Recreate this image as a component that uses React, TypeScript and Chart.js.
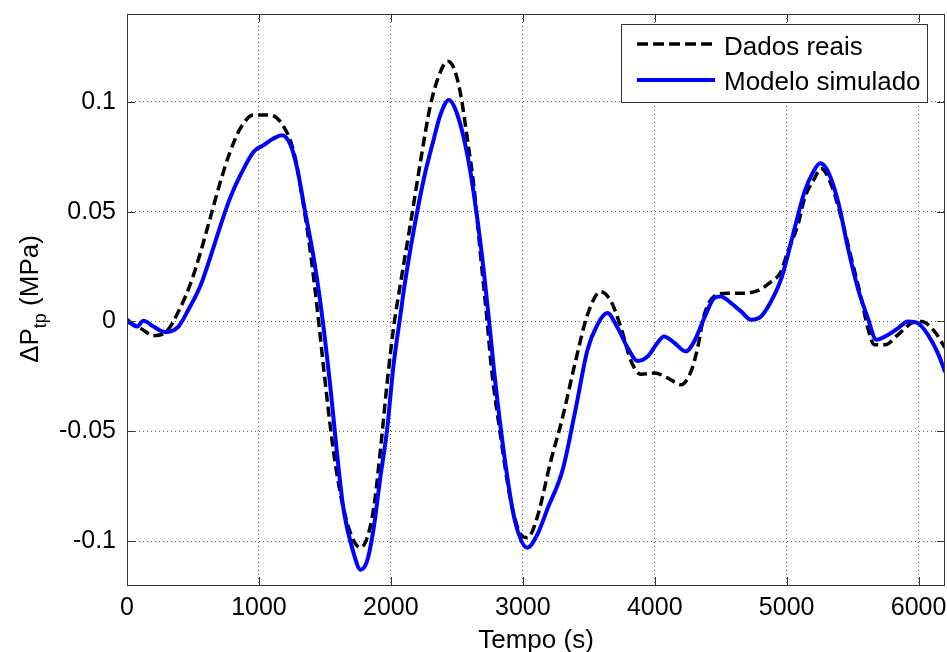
import React, { useEffect, useRef } from "react";
import { Chart, registerables } from "chart.js";

Chart.register(...registerables);

// ---- Data ----
const realT = [0, 100, 200, 300, 390, 480, 555, 630, 705, 780, 860, 960, 1085, 1185, 1265, 1340, 1400, 1460, 1490, 1565, 1640, 1720, 1770, 1820, 1870, 1920, 1970, 2020, 2075, 2150, 2225, 2300, 2375, 2430, 2480, 2530, 2580, 2630, 2680, 2730, 2760, 2830, 2910, 2985, 3035, 3110, 3210, 3300, 3400, 3490, 3590, 3670, 3745, 3820, 3895, 4000, 4100, 4200, 4275, 4325, 4375, 4450, 4555, 4680, 4780, 4880, 4950, 5010, 5085, 5135, 5210, 5260, 5340, 5415, 5490, 5565, 5615, 5665, 5745, 5845, 5945, 6020, 6120, 6200];
const realP = [0, -0.003, -0.0064, -0.0045, 0.0045, 0.017, 0.031, 0.047, 0.063, 0.077, 0.088, 0.094, 0.094, 0.089, 0.077, 0.052, 0.027, -0.004, -0.021, -0.059, -0.085, -0.1, -0.103, -0.0985, -0.085, -0.059, -0.029, -0.003, 0.018, 0.045, 0.073, 0.0985, 0.1136, 0.1185, 0.115, 0.103, 0.083, 0.061, 0.03, 0.0, -0.02, -0.0515, -0.082, -0.097, -0.0985, -0.089, -0.064, -0.044, -0.018, 0.003, 0.0136, 0.009, -0.003, -0.018, -0.024, -0.0235, -0.0258, -0.0288, -0.0227, -0.012, 0.003, 0.0114, 0.0129, 0.0129, 0.014, 0.018, 0.022, 0.032, 0.044, 0.056, 0.065, 0.0697, 0.062, 0.047, 0.0288, 0.0106, -0.003, -0.0106, -0.0106, -0.006, -0.0008, 0, -0.0045, -0.012];

const simT = [0, 75, 125, 200, 290, 390, 465, 555, 630, 705, 780, 860, 960, 1035, 1110, 1175, 1240, 1290, 1350, 1415, 1465, 1540, 1590, 1640, 1720, 1770, 1820, 1870, 1920, 1970, 2020, 2075, 2100, 2175, 2250, 2325, 2375, 2440, 2505, 2580, 2630, 2690, 2755, 2780, 2855, 2935, 3035, 3110, 3190, 3300, 3400, 3490, 3565, 3640, 3720, 3795, 3870, 3945, 4020, 4070, 4150, 4235, 4300, 4375, 4450, 4500, 4580, 4655, 4730, 4805, 4880, 4960, 5060, 5135, 5200, 5255, 5315, 5390, 5465, 5540, 5615, 5680, 5770, 5845, 5920, 5995, 6070, 6150, 6200];
const simP = [0.0008, -0.0023, 0.0003, -0.0023, -0.0048, -0.0023, 0.0053, 0.016, 0.029, 0.043, 0.056, 0.0667, 0.0773, 0.0803, 0.0833, 0.0848, 0.0803, 0.0697, 0.05, 0.029, 0.009, -0.029, -0.059, -0.085, -0.106, -0.113, -0.109, -0.094, -0.071, -0.05, -0.02, 0.004, 0.015, 0.042, 0.065, 0.083, 0.094, 0.1008, 0.094, 0.0758, 0.0576, 0.0303, -0.006, -0.0212, -0.059, -0.0894, -0.103, -0.097, -0.0848, -0.068, -0.04, -0.013, -0.0015, 0.0038, -0.003, -0.012, -0.018, -0.016, -0.0098, -0.0068, -0.0098, -0.0136, -0.009, 0.0015, 0.0106, 0.0114, 0.0083, 0.0045, 0.0008, 0.0023, 0.009, 0.0197, 0.0424, 0.059, 0.068, 0.072, 0.068, 0.0545, 0.0333, 0.015, 0.0015, -0.0083, -0.006, -0.003, 0, -0.0008, -0.006, -0.015, -0.023];

const xTicks = [0, 1000, 2000, 3000, 4000, 5000, 6000];
const yTicks = [-0.1, -0.05, 0, 0.05, 0.1];
const xRange = [0, 6200];
const yRange = [-0.12, 0.14];
const seriesNames = ["Dados reais", "Modelo simulado"];
const xTitle = "Tempo (s)";
const yTitleMain = "\u0394P";
const yTitleSub = "tp";
const yTitleUnit = " (MPa)";

const FONT = '"Liberation Sans", Arial, Helvetica, sans-serif';
const BLACK_DASH = [10, 5];

const framePlugin = {
  id: "matlabFrame",
  afterDraw(chart: any) {
    const { ctx, chartArea } = chart;
    const { left, right, top, bottom } = chartArea;
    const xs = chart.scales.x;
    const ys = chart.scales.y;
    ctx.save();
    // axes box
    ctx.strokeStyle = "#333333";
    ctx.lineWidth = 1;
    ctx.setLineDash([]);
    ctx.strokeRect(Math.round(left) + 0.5, Math.round(top) + 0.5, Math.round(right - left) - 1, Math.round(bottom - top));
    // inward ticks
    const tl = 8;
    ctx.beginPath();
    xTicks.forEach((v) => {
      const px = Math.round(xs.getPixelForValue(v)) + 0.5;
      ctx.moveTo(px, bottom);
      ctx.lineTo(px, bottom - tl);
      ctx.moveTo(px, top);
      ctx.lineTo(px, top + tl);
    });
    yTicks.forEach((v) => {
      const py = Math.round(ys.getPixelForValue(v)) + 0.5;
      ctx.moveTo(left, py);
      ctx.lineTo(left + tl, py);
      ctx.moveTo(right, py);
      ctx.lineTo(right - tl, py);
    });
    ctx.stroke();

    // legend
    const lw = 306, lh = 78;
    const lx = Math.round(right - 18 - lw), ly = Math.round(top + 10);
    ctx.fillStyle = "#ffffff";
    ctx.fillRect(lx, ly, lw, lh);
    ctx.strokeStyle = "#333333";
    ctx.lineWidth = 1;
    ctx.strokeRect(lx + 0.5, ly + 0.5, lw, lh);
    const x1 = lx + 16, x2 = lx + 94;
    ctx.lineCap = "butt";
    ctx.strokeStyle = "#000000";
    ctx.lineWidth = 3.5;
    ctx.setLineDash([11, 5]);
    ctx.beginPath();
    ctx.moveTo(x1, ly + 20);
    ctx.lineTo(x2, ly + 20);
    ctx.stroke();
    ctx.setLineDash([]);
    ctx.strokeStyle = "#0000ff";
    ctx.lineWidth = 4;
    ctx.beginPath();
    ctx.moveTo(x1, ly + 56);
    ctx.lineTo(x2, ly + 56);
    ctx.stroke();
    ctx.fillStyle = "#000000";
    ctx.font = `26px ${FONT}`;
    ctx.textAlign = "left";
    ctx.textBaseline = "alphabetic";
    ctx.fillText(seriesNames[0], lx + 103, ly + 31);
    ctx.fillText(seriesNames[1], lx + 103, ly + 66);

    // x title
    ctx.textAlign = "center";
    ctx.fillText(xTitle, (left + right) / 2, 648);

    // y title with subscript
    ctx.translate(37.5, 299);
    ctx.rotate(-Math.PI / 2);
    ctx.textAlign = "left";
    const mainFont = `26px ${FONT}`;
    const subFont = `18px ${FONT}`;
    ctx.font = mainFont;
    const w1 = ctx.measureText(yTitleMain).width;
    const w3 = ctx.measureText(yTitleUnit).width;
    ctx.font = subFont;
    const w2 = ctx.measureText(yTitleSub).width;
    const total = w1 + w2 + w3;
    let cx = -total / 2;
    ctx.font = mainFont;
    ctx.fillText(yTitleMain, cx, 0);
    cx += w1;
    ctx.font = subFont;
    ctx.fillText(yTitleSub, cx, 8);
    cx += w2;
    ctx.font = mainFont;
    ctx.fillText(yTitleUnit, cx, 0);
    ctx.restore();
  },
};

export default function App() {
  const canvasRef = useRef<HTMLCanvasElement | null>(null);

  useEffect(() => {
    const canvas = canvasRef.current;
    if (!canvas) return;
    const chart = new Chart(canvas, {
      type: "line",
      data: {
        datasets: [
          {
            label: seriesNames[0],
            data: realT.map((t, i) => ({ x: t, y: realP[i] })),
            borderColor: "#000000",
            borderWidth: 3.5,
            borderDash: BLACK_DASH,
            pointRadius: 0,
            fill: false,
            cubicInterpolationMode: "monotone",
            order: 1,
            clip: 0,
          },
          {
            label: seriesNames[1],
            data: simT.map((t, i) => ({ x: t, y: simP[i] })),
            borderColor: "#0000ff",
            borderWidth: 4,
            pointRadius: 0,
            fill: false,
            cubicInterpolationMode: "monotone",
            order: 0,
            clip: 0,
          },
        ],
      },
      options: {
        animation: false,
        responsive: true,
        maintainAspectRatio: false,
        devicePixelRatio: 1,
        layout: { padding: { left: 0, top: 14, right: 2, bottom: 0 } },
        plugins: {
          legend: { display: false },
          tooltip: { enabled: false },
          title: { display: false },
        },
        scales: {
          x: {
            type: "linear",
            min: xRange[0],
            max: xRange[1],
            afterBuildTicks: (scale: any) => {
              scale.ticks = xTicks.map((v) => ({ value: v }));
            },
            afterFit: (scale: any) => {
              scale.height = 67;
              scale.paddingLeft = 0;
              scale.paddingRight = 0;
            },
            ticks: {
              color: "#000000",
              font: { family: FONT, size: 25 },
              padding: 8,
              maxRotation: 0,
              autoSkip: false,
              callback: (v: any) => String(v),
            },
            grid: {
              color: "rgba(0,0,0,0.6)",
              lineWidth: 1,
              drawTicks: false,
            },
            border: { display: false, dash: [1, 3] },
          },
          y: {
            type: "linear",
            min: yRange[0],
            max: yRange[1],
            afterBuildTicks: (scale: any) => {
              scale.ticks = yTicks.map((v) => ({ value: v }));
            },
            afterFit: (scale: any) => {
              scale.width = 127;
              scale.paddingTop = 0;
              scale.paddingBottom = 0;
            },
            ticks: {
              color: "#000000",
              font: { family: FONT, size: 25 },
              padding: 11,
              autoSkip: false,
              callback: (v: any) => String(Math.round(Number(v) * 1000) / 1000),
            },
            grid: {
              color: "rgba(0,0,0,0.6)",
              lineWidth: 1,
              drawTicks: false,
            },
            border: { display: false, dash: [1, 3] },
          },
        },
      },
      plugins: [framePlugin],
    });
    return () => chart.destroy();
  }, []);

  return (
    <div style={{ position: "absolute", left: 0, top: 0, width: 947, height: 652, background: "#ffffff" }}>
      <canvas ref={canvasRef} />
    </div>
  );
}
